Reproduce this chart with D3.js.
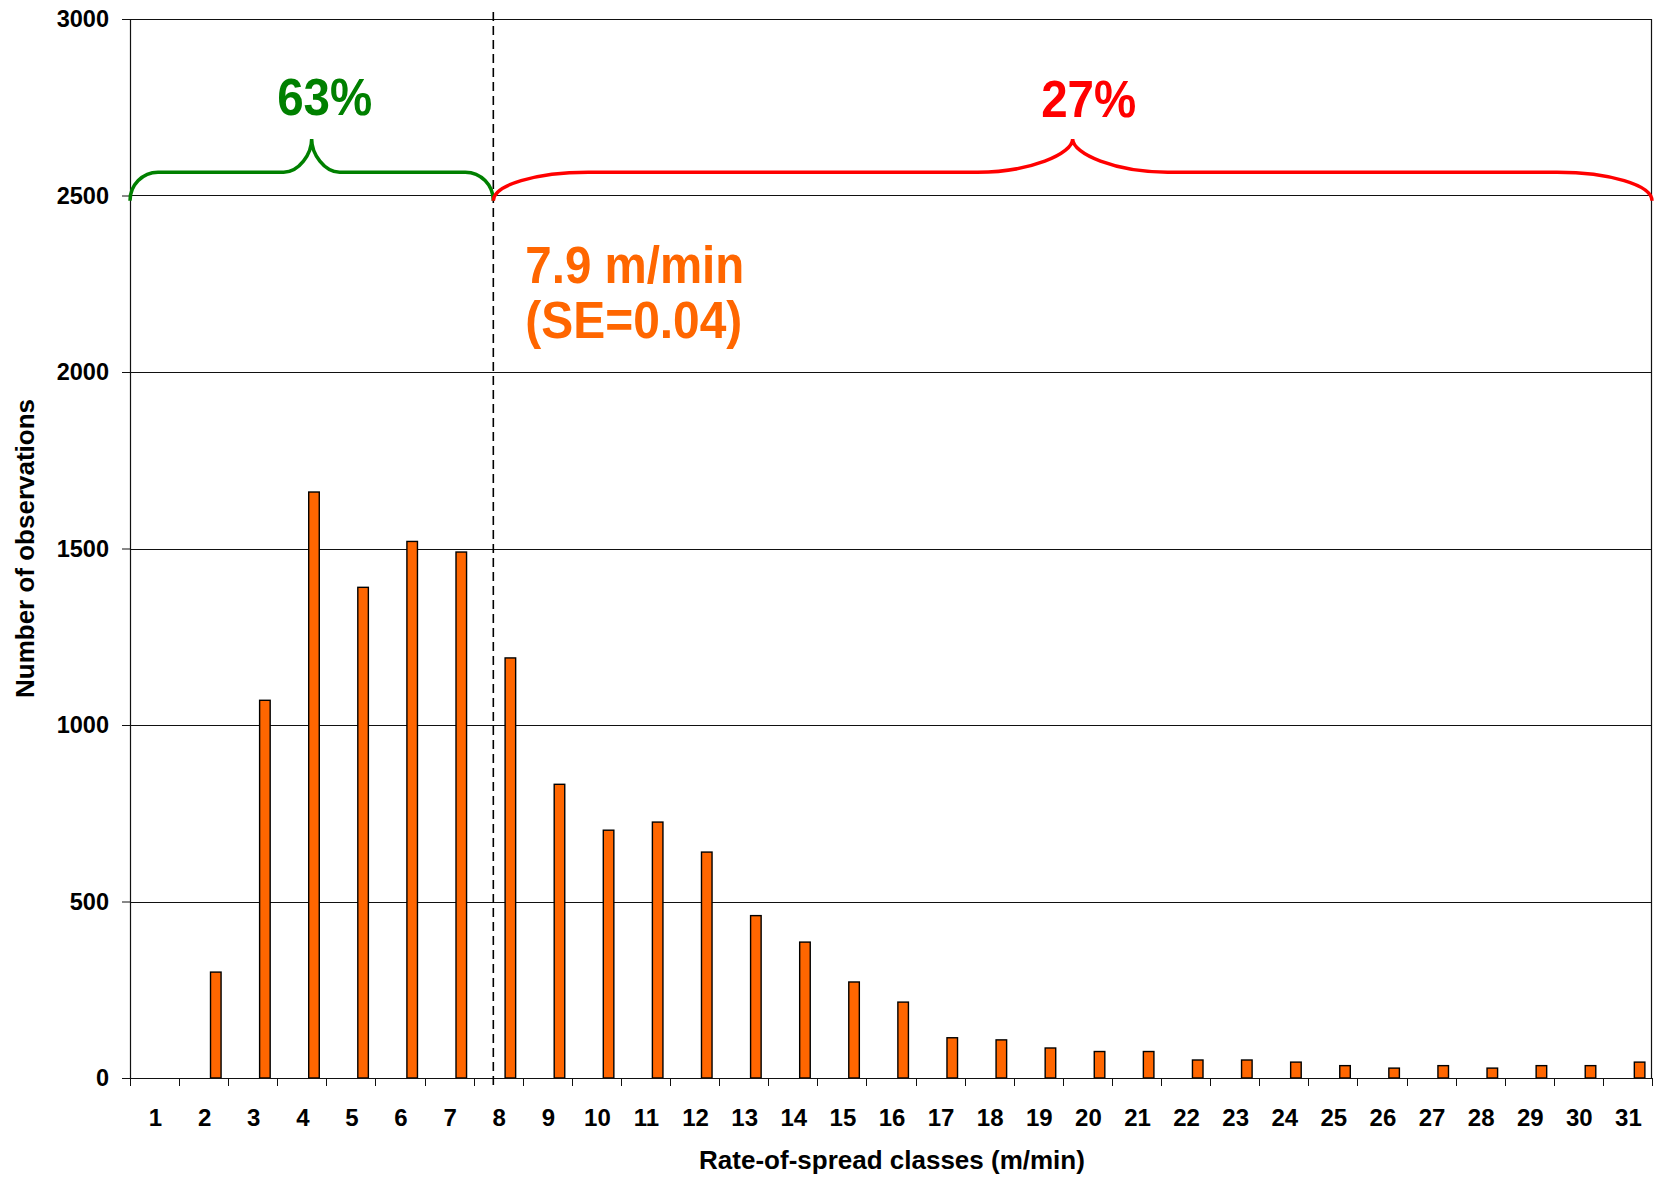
<!DOCTYPE html>
<html>
<head>
<meta charset="utf-8">
<script src="https://cdn.jsdelivr.net/npm/d3@7"></script>
<style>
  html, body { margin: 0; padding: 0; background: #fff; }
  svg { display: block; }
  text { font-family: "Liberation Sans", Arial, Helvetica, sans-serif; font-weight: bold; }
</style>
</head>
<body>
<script>
// Rate-of-spread classes (m/min)
const classes = [1, 2, 3, 4, 5, 6, 7, 8, 9, 10, 11, 12, 13, 14, 15, 16,
                 17, 18, 19, 20, 21, 22, 23, 24, 25, 26, 27, 28, 29, 30, 31];
// Number of observations in each class
const counts = [0, 300, 1070, 1660, 1390, 1520, 1490, 1190, 832, 702, 725, 640,
                460, 385, 272, 215, 114, 108, 85, 75, 75, 51, 51, 45, 35, 28, 35, 28, 35, 35, 45];
// Y axis ticks
const yTicks = [0, 500, 1000, 1500, 2000, 2500, 3000];
// Mean rate of spread and its standard error
const meanSpread = 7.9;
const meanSE = 0.04;
// Share of observations below / above the mean
const shareBelow = 63;
const shareAbove = 27;

const W = 1656, H = 1178;
const margin = { top: 19, right: 4, bottom: 100, left: 130 };
const iw = W - margin.left - margin.right;
const ih = 1078 - margin.top;

const svg = d3.select("body").append("svg")
  .attr("width", W).attr("height", H)
  .attr("viewBox", `0 0 ${W} ${H}`);

svg.append("rect").attr("width", W).attr("height", H).attr("fill", "#fff");

const g = svg.append("g").attr("transform", `translate(${margin.left},${margin.top})`);

const x = d3.scaleBand().domain(classes).range([0, iw]).padding(0);
const bw = x.bandwidth();
// continuous position for class values (class k centred on its band)
const xv = d3.scaleLinear().domain([1, classes.length]).range([bw / 2, iw - bw / 2]);
const y = d3.scaleLinear().domain([0, 3000]).range([ih, 0]);

// horizontal gridlines
g.append("g").selectAll("line").data(yTicks.filter(d => d > 0)).join("line")
  .attr("x1", 0).attr("x2", iw)
  .attr("y1", d => Math.round(y(d)) + 0.5).attr("y2", d => Math.round(y(d)) + 0.5)
  .attr("stroke", "#111").attr("stroke-width", 1);

// plot frame (right side)
g.append("line")
  .attr("x1", iw - 0.5).attr("x2", iw - 0.5).attr("y1", y(3000)).attr("y2", ih)
  .attr("stroke", "#111").attr("stroke-width", 1.2);

// bars
g.append("g").selectAll("rect").data(classes.map((c, i) => ({ c, v: counts[i] })).filter(d => d.v > 0))
  .join("rect")
  .attr("x", d => x(d.c) + bw * 0.64)
  .attr("width", bw * 0.215)
  .attr("y", d => y(d.v))
  .attr("height", d => y(0) - y(d.v))
  .attr("fill", "#FF6600")
  .attr("stroke", "#000")
  .attr("stroke-width", 1.4);

// y axis
const yAxis = g.append("g")
  .call(d3.axisLeft(y).tickValues(yTicks).tickSize(8).tickPadding(13).tickFormat(d3.format("d")));
yAxis.select(".domain").attr("stroke", "#111").attr("stroke-width", 1.2);
yAxis.selectAll(".tick line").attr("stroke", "#111");
yAxis.selectAll("text").attr("font-size", 23.5).attr("fill", "#000")
  .attr("font-family", "Liberation Sans, Arial, sans-serif").attr("font-weight", "bold");

// x axis: ticks at class boundaries, labels at class centres
const xAxisG = g.append("g").attr("transform", `translate(0,${ih})`);
xAxisG.append("line").attr("x1", 0).attr("x2", iw).attr("y1", 0.5).attr("y2", 0.5)
  .attr("stroke", "#111").attr("stroke-width", 1.2);
const boundaries = classes.map(c => x(c)).concat([iw]);
xAxisG.selectAll("line.tk").data(boundaries).join("line").attr("class", "tk")
  .attr("x1", d => Math.round(d) + 0.5).attr("x2", d => Math.round(d) + 0.5)
  .attr("y1", 0).attr("y2", 8)
  .attr("stroke", "#111").attr("stroke-width", 1);
xAxisG.selectAll("text").data(classes).join("text")
  .attr("x", d => x(d) + bw / 2 + 1)
  .attr("y", 47.5)
  .attr("text-anchor", "middle")
  .attr("font-size", 24)
  .attr("fill", "#000")
  .text(d => d);

// axis titles
svg.append("text")
  .attr("transform", `translate(34,${margin.top + ih / 2}) rotate(-90)`)
  .attr("text-anchor", "middle")
  .attr("font-size", 26)
  .attr("fill", "#000")
  .text("Number of observations");

svg.append("text")
  .attr("x", margin.left + iw / 2 + 1)
  .attr("y", 1169)
  .attr("text-anchor", "middle")
  .attr("font-size", 26)
  .attr("fill", "#000")
  .text("Rate-of-spread classes (m/min)");

// mean marker
const mx = xv(meanSpread);
g.append("line")
  .attr("x1", mx).attr("x2", mx)
  .attr("y1", y(3000) - 7).attr("y2", ih + 7)
  .attr("stroke", "#000").attr("stroke-width", 1.6)
  .attr("stroke-dasharray", "9,5");

// curly braces grouping the classes below and above the mean
function bracePath(x0, x1, yEnd, yFlat, yTip, r) {
  const k = 0.552;
  const xm = (x0 + x1) / 2;
  const dy1 = yEnd - yFlat, dy2 = yFlat - yTip;
  return [
    `M${x0},${yEnd}`,
    `C${x0},${yEnd - k * dy1} ${x0 + r * (1 - k)},${yFlat} ${x0 + r},${yFlat}`,
    `L${xm - r},${yFlat}`,
    `C${xm - r * (1 - k)},${yFlat} ${xm},${yFlat - k * dy2} ${xm},${yTip}`,
    `C${xm},${yFlat - k * dy2} ${xm + r * (1 - k)},${yFlat} ${xm + r},${yFlat}`,
    `L${x1 - r},${yFlat}`,
    `C${x1 - r * (1 - k)},${yFlat} ${x1},${yEnd - k * dy1} ${x1},${yEnd}`
  ].join(" ");
}
const yEnd = y(2485), yFlat = y(2566), yTip = y(2660);

g.append("path")
  .attr("d", bracePath(0, mx, yEnd, yFlat, yTip, 28))
  .attr("fill", "none").attr("stroke", "#008000").attr("stroke-width", 3.5);
g.append("path")
  .attr("d", bracePath(mx, iw, yEnd, yFlat, yTip, 95))
  .attr("fill", "none").attr("stroke", "#FF0000").attr("stroke-width", 3.5);

// annotations
g.append("text")
  .attr("x", mx / 2 + 13).attr("y", y(2727))
  .attr("text-anchor", "middle")
  .attr("font-size", 52).attr("fill", "#008000")
  .attr("textLength", 95).attr("lengthAdjust", "spacingAndGlyphs")
  .text(`${shareBelow}%`);

g.append("text")
  .attr("x", (mx + iw) / 2 + 16).attr("y", y(2722))
  .attr("text-anchor", "middle")
  .attr("font-size", 52).attr("fill", "#FF0000")
  .attr("textLength", 95).attr("lengthAdjust", "spacingAndGlyphs")
  .text(`${shareAbove}%`);

g.append("text")
  .attr("x", mx + 32).attr("y", y(2252))
  .attr("font-size", 51).attr("fill", "#FF6600")
  .attr("textLength", 219).attr("lengthAdjust", "spacingAndGlyphs")
  .text(`${meanSpread} m/min`);

g.append("text")
  .attr("x", mx + 32).attr("y", y(2096))
  .attr("font-size", 51).attr("fill", "#FF6600")
  .attr("textLength", 217).attr("lengthAdjust", "spacingAndGlyphs")
  .text(`(SE=${meanSE.toFixed(2)})`);
</script>
</body>
</html>
